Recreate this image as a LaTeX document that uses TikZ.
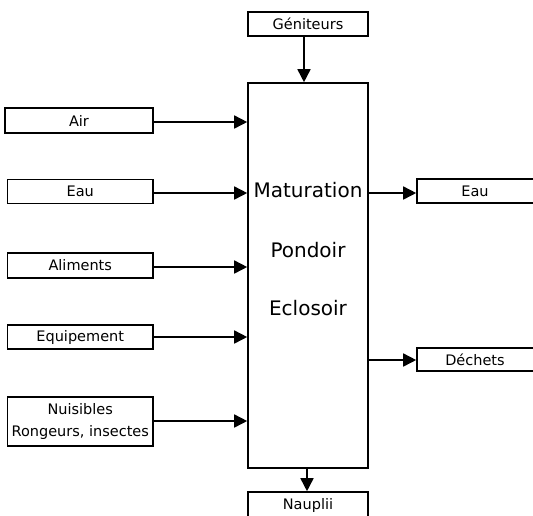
\documentclass[tikz,border=0pt]{standalone}
\usepackage{fontspec}
\setmainfont{DejaVu Sans}
\usetikzlibrary{arrows.meta}
\begin{document}
\begin{tikzpicture}[x=1pt,y=-1pt,
  box/.style={draw,line width=1.6pt,rectangle,inner sep=0pt,font=\fontsize{14.5}{17}\selectfont},
  conn/.style={line width=1.6pt,-{Triangle[length=13pt,width=13pt]}},
  big/.style={font=\fontsize{20}{22}\selectfont,inner sep=0pt}]
\useasboundingbox (0,0) rectangle (533,515);
\clip (0,0) rectangle (533,515);
\node[box,minimum width=120pt,minimum height=24pt] (gen) at (308,24) {Géniteurs};
\node[box,minimum width=120pt,minimum height=385pt] (main) at (308,275.5) {};
\node[big] (m1) at (308,190) {Maturation};
\node[big] (m2) at (308,250) {Pondoir};
\node[big] (m3) at (308,308) {Eclosoir};
\node[box,minimum width=148pt,minimum height=25pt] (air) at (79,120.5) {Air};
\node[box,minimum width=145.5pt,minimum height=24pt] (eauL) at (80.25,191.5) {Eau};
\node[box,minimum width=145.5pt,minimum height=25pt] (alim) at (80.25,265.5) {Aliments};
\node[box,minimum width=145.5pt,minimum height=24pt] (equip) at (80.25,337) {Equipement};
\node[box,minimum width=145.5pt,minimum height=49pt,align=center,font=\fontsize{14.5}{22}\selectfont] (nuis) at (80.25,421.5) {Nuisibles\\Rongeurs, insectes};
\node[box,minimum width=128pt,minimum height=24pt] (eauR) at (481,191) {\hspace*{-12pt}Eau};
\node[box,minimum width=128pt,minimum height=23pt] (dech) at (481,359.5) {\hspace*{-12pt}Déchets};
\node[box,minimum width=120pt,minimum height=26pt] (naup) at (308,505) {Nauplii};
\draw[conn] ([xshift=-4pt]gen.south) -- ([xshift=-4pt]gen.south |- main.north);
\draw[conn] ([yshift=-1.5pt]air.east) -- ([yshift=-1.5pt]air.east -| main.west);
\draw[conn] ([yshift=-1.5pt]eauL.east) -- ([yshift=-1.5pt]eauL.east -| main.west);
\draw[conn] ([yshift=-1.5pt]alim.east) -- ([yshift=-1.5pt]alim.east -| main.west);
\draw[conn] (equip.east) -- (equip.east -| main.west);
\draw[conn] ([yshift=0.5pt]nuis.east) -- ([yshift=0.5pt]nuis.east -| main.west);
\draw[conn] ([yshift=-2pt]main.east |- eauR.west) -- ([yshift=-2pt]eauR.west);
\draw[conn] ([yshift=-0.5pt]main.east |- dech.west) -- ([yshift=-0.5pt]dech.west);
\draw[conn] ([xshift=-1pt]main.south) -- ([xshift=-1pt]main.south |- naup.north);
\end{tikzpicture}
\end{document}
